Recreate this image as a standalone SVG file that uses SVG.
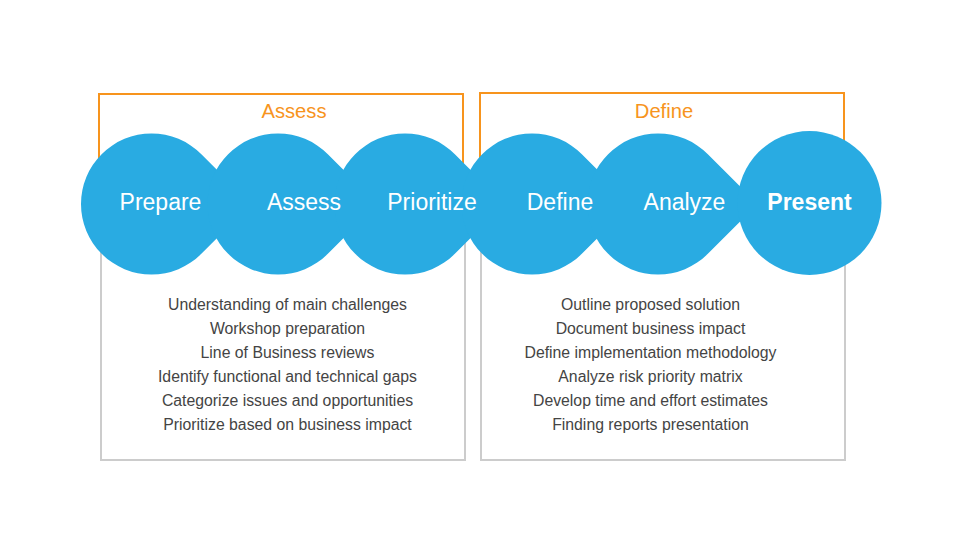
<svg xmlns="http://www.w3.org/2000/svg" width="960" height="560" viewBox="0 0 960 560">
<style>
.obox{fill:none;stroke:#F7941D;stroke-width:2}
.gbox{fill:none;stroke:#CCCCCC;stroke-width:2}
.title{font-family:"Liberation Sans",Arial,sans-serif;font-size:20.2px;fill:#F7941D;text-anchor:middle}
.blob{fill:#29ABE2}
.lbl{font-family:"Liberation Sans",Arial,sans-serif;font-size:23px;fill:#FFFFFF;text-anchor:middle}
.item{font-family:"Liberation Sans",Arial,sans-serif;font-size:15.8px;fill:#444444;text-anchor:middle}
</style>
<rect width="960" height="560" fill="#FFFFFF"/>
<g id="group-assess">
<path class="obox" d="M99,204 V94 H463 V204"/>
<path class="gbox" d="M101,204 V460 H465 V204"/>
<text class="title" x="294" y="118">Assess</text>
<text class="item" x="287.5" y="310">Understanding of main challenges</text>
<text class="item" x="287.5" y="334">Workshop preparation</text>
<text class="item" x="287.5" y="358">Line of Business reviews</text>
<text class="item" x="287.5" y="382">Identify functional and technical gaps</text>
<text class="item" x="287.5" y="406">Categorize issues and opportunities</text>
<text class="item" x="287.5" y="430">Prioritize based on business impact</text>
</g>
<g id="group-define">
<path class="obox" d="M480,204 V93 H844 V204"/>
<path class="gbox" d="M481,204 V460 H845 V204"/>
<text class="title" x="664" y="118">Define</text>
<text class="item" x="650.5" y="310">Outline proposed solution</text>
<text class="item" x="650.5" y="334">Document business impact</text>
<text class="item" x="650.5" y="358">Define implementation methodology</text>
<text class="item" x="650.5" y="382">Analyze risk priority matrix</text>
<text class="item" x="650.5" y="406">Develop time and effort estimates</text>
<text class="item" x="650.5" y="430">Finding reports presentation</text>
</g>
<g id="connectors"></g>
<g id="step-prepare">
<path class="blob" d="M251.2,204 L201.35,154.15 A70.5,70.5 0 1 0 201.35,253.85 Z"/>
<text class="lbl" x="160.5" y="210">Prepare</text>
</g>
<g id="step-assess">
<path class="blob" d="M377.7,204 L327.85,154.15 A70.5,70.5 0 1 0 327.85,253.85 Z"/>
</g>
<g id="step-prioritize">
<path class="blob" d="M504.7,204 L454.85,154.15 A70.5,70.5 0 1 0 454.85,253.85 Z"/>
</g>
<g id="step-define">
<path class="blob" d="M631.7,204 L581.85,154.15 A70.5,70.5 0 1 0 581.85,253.85 Z"/>
</g>
<g id="step-analyze">
<path class="blob" d="M757.7,204 L707.85,154.15 A70.5,70.5 0 1 0 707.85,253.85 Z"/>
</g>
<g id="step-present">
<circle class="blob" cx="809.5" cy="203" r="72"/>
</g>
<g id="step-labels">
<text class="lbl" x="304" y="210">Assess</text>
<text class="lbl" x="432" y="210">Prioritize</text>
<text class="lbl" x="560" y="210">Define</text>
<text class="lbl" x="684.5" y="210">Analyze</text>
<text class="lbl" x="809.5" y="210" font-weight="bold" font-size="22.5">Present</text>
</g>
</svg>
